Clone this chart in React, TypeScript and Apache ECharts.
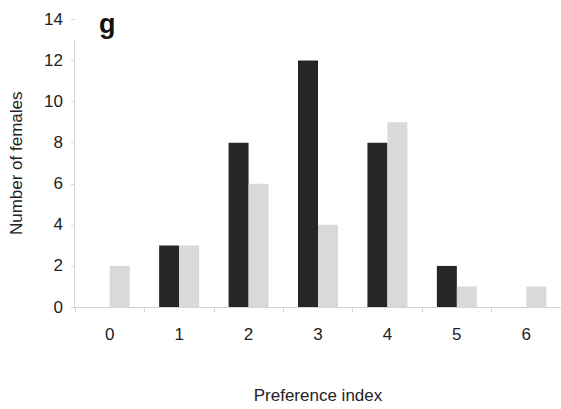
import React, { useEffect, useRef } from "react";
import * as echarts from "echarts";

const categories = ["0", "1", "2", "3", "4", "5", "6"];
const darkValues = [0, 3, 8, 12, 8, 2, 0];
const lightValues = [2, 3, 6, 4, 9, 1, 1];
const yMin = 0;
const yMax = 14;
const yInterval = 2;
const axisLineTop = 13;

export default function App() {
  const ref = useRef<HTMLDivElement>(null);
  useEffect(() => {
    if (!ref.current) return;
    const chart = echarts.init(ref.current, null, { renderer: "svg" });
    const font = "Liberation Sans, Arial, sans-serif";
    const label = { text: "g", font: "bold 27px Liberation Sans, Arial, sans-serif", fill: "#111" };
    chart.setOption({
      animation: false,
      backgroundColor: "#ffffff",
      grid: { left: 74, top: 19.5, width: 490, bottom: 92, containLabel: false },
      xAxis: {
        type: "category",
        data: categories,
        name: "Preference index",
        nameLocation: "middle",
        nameGap: 80,
        nameTextStyle: { fontFamily: font, fontSize: 17, color: "#222" },
        axisLine: { show: true, lineStyle: { color: "#d4d4d4", width: 1 } },
        axisTick: { show: true, length: 5, lineStyle: { color: "#d4d4d4" } },
        axisLabel: { fontFamily: font, fontSize: 17, color: "#222", margin: 19 },
        splitLine: { show: false },
      },
      yAxis: {
        type: "value",
        min: yMin,
        max: yMax,
        interval: yInterval,
        name: "Number of females",
        nameLocation: "middle",
        nameGap: 50,
        nameTextStyle: { fontFamily: font, fontSize: 17, color: "#222" },
        axisLine: { show: false },
        axisTick: { show: true, length: 4, lineStyle: { color: "#d4d4d4" } },
        axisLabel: { fontFamily: font, fontSize: 17, color: "#222", margin: 12 },
        splitLine: { show: false },
      },
      series: [
        {
          type: "bar",
          data: darkValues,
          barWidth: 20,
          barGap: "0%",
          itemStyle: { color: "#262626" },
        },
        {
          type: "bar",
          data: lightValues,
          barWidth: 20,
          barGap: "0%",
          itemStyle: { color: "#d9d9d9" },
        },
      ],
    });
    const top = chart.convertToPixel({ yAxisIndex: 0 }, axisLineTop);
    const bottom = chart.convertToPixel({ yAxisIndex: 0 }, yMin);
    chart.setOption({
      graphic: [
        { type: "text", left: 99, top: 10, style: label },
        {
          type: "line",
          shape: { x1: 74.5, y1: top, x2: 74.5, y2: bottom },
          style: { stroke: "#d4d4d4", lineWidth: 1 },
        },
      ],
    });
    return () => chart.dispose();
  }, []);
  return <div ref={ref} style={{ position: "fixed", left: 0, top: 0, width: 561, height: 409 }} />;
}
